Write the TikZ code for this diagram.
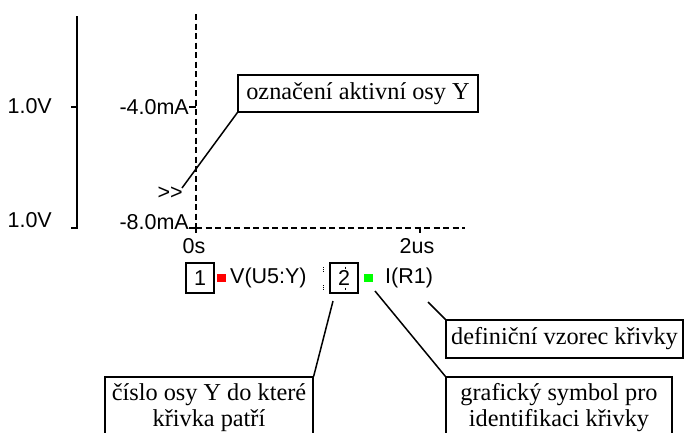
\documentclass[tikz,border=0pt]{standalone}
\usepackage{fontspec}
\setmainfont{Liberation Serif}
\newfontfamily\arialf{Liberation Sans}
\begin{document}
\begin{tikzpicture}[x=1pt,y=-1pt,
  callout/.style={draw,line width=1.3pt,fill=white,inner sep=0pt,
    font=\fontsize{24.3}{26}\selectfont,align=center},
  axlabel/.style={inner sep=0pt,font=\arialf\fontsize{21.5}{24}\selectfont},
  legbox/.style={draw,line width=1.2pt,fill=white,inner sep=0pt,minimum width=28pt,
    minimum height=30pt,font=\arialf\fontsize{21.5}{24}\selectfont},
  axisline/.style={line width=2.2pt},
  dashaxis/.style={line width=2.2pt,dash pattern=on 6pt off 3.5pt},
  leader/.style={line width=1.5pt}]
\clip (0,0) rectangle (687,432);
\fill[white] (0,0) rectangle (687,432);
% left voltage axis
\draw[axisline] (77,16) coordinate (vt) -- (77,228) coordinate (vb) -- (71,228);
\draw[axisline] (71,107) -- (77,107);
\node[axlabel,anchor=east] (v1) at (52,106) {1.0V};
\node[axlabel,anchor=east] (v2) at (52,220) {1.0V};
% current axis (dashed)
\draw[dashaxis] (196,14) coordinate (it) -- (196,228) coordinate (o);
\draw[dashaxis] (o) -- (465,228) coordinate (xe);
\draw[axisline] (189,107) -- (196,107);
\draw[axisline] (189,228) -- (196,228) -- (196,233);
\draw[axisline] (420,228) -- (420,233);
\node[axlabel,anchor=east] (i1) at (189,107) {-4.0mA};
\node[axlabel,anchor=east] (i2) at (189,222) {-8.0mA};
\node[axlabel] (t0) at (194,246) {0s};
\node[axlabel] (t2) at (417,246) {2us};
\node[axlabel,anchor=east] (mk) at (183,193) {>>};
% callout: active axis
\node[callout,minimum width=240pt,minimum height=37pt] (osy) at (358,93.5) {označení aktivní osy Y};
\coordinate (mkend) at (182,188);
\draw[leader] (mkend) -- (osy.south west);
% legend
\node[legbox] (b1) at (200,278) {1};
\fill[red] (217,274) rectangle (226,282);
\node[axlabel,anchor=west] (l1) at (230,278) {V(U5:Y)};
\draw[line width=0.8pt,densely dotted] (323,267) -- (323,271) (323,285) -- (323,289);
\node[legbox] (b2) at (344,278) {2};
\draw[line width=0.8pt] (345,266.5) -- (345,268.5) (345,287.5) -- (345,289.5);
\fill[green] (364,274) rectangle (373,282);
\node[axlabel,anchor=west] (l2) at (385,278) {I(R1)};
% bottom callouts
\node[callout,minimum width=237pt,minimum height=38pt] (def) at (564.5,339) {definiční vzorec křivky};
\node[callout,minimum width=208pt,minimum height=62pt] (cis) at (209,408) {číslo osy Y do které\\křivka patří};
\node[callout,minimum width=226pt,minimum height=62pt] (gra) at (559,408) {grafický symbol pro\\identifikaci křivky};
\coordinate (c2) at (333,301);
\coordinate (cg) at (375,291);
\coordinate (cr) at (428,302);
\draw[leader] (c2) -- (cis.north east);
\draw[leader] (cg) -- (gra.north west);
\draw[leader] (cr) -- (def.north west);
\end{tikzpicture}
\end{document}
